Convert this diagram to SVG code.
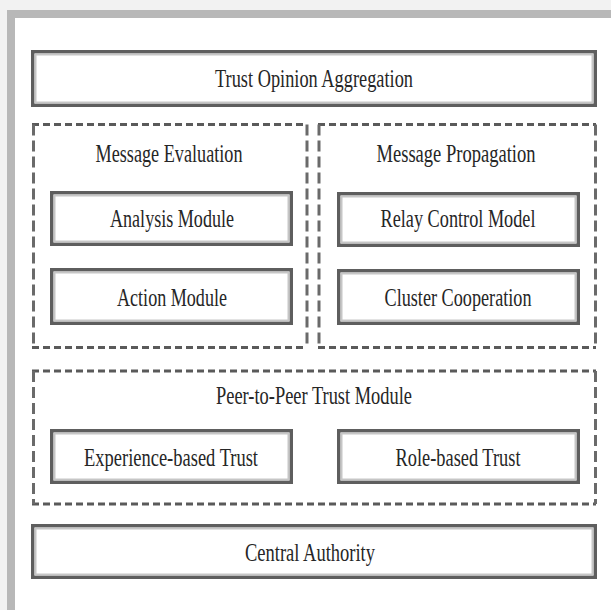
<svg xmlns="http://www.w3.org/2000/svg" width="611" height="610" viewBox="0 0 611 610">
<style>
.box{fill:#fff;stroke:#5e5e5e;stroke-width:3.5}
.inner{fill:none;stroke:#c6c6c6;stroke-width:2}
.dh{fill:none;stroke:#5a5a5a;stroke-width:3;stroke-dasharray:7 4}
.dv{fill:none;stroke:#6a6a6a;stroke-width:3;stroke-dasharray:11 5}
text{font-family:"Liberation Serif","Times New Roman",serif;font-size:26px;fill:#262626;text-anchor:middle}
</style>
<rect x="0" y="0" width="611" height="610" fill="#f2f2f2"/>
<rect x="11" y="14" width="610" height="610" fill="#fff" stroke="#b8b8b8" stroke-width="8"/>
<g id="trust-opinion-aggregation">
<rect class="box" x="32.75" y="51.75" width="562.5" height="53.5"/>
<rect class="inner" x="35.5" y="54.5" width="557" height="48"/>
<text x="314" y="87" textLength="198" lengthAdjust="spacingAndGlyphs">Trust Opinion Aggregation</text>
</g>
<g id="message-evaluation">
<path class="dh" d="M32 124.5H307M32 347.5H307"/>
<path class="dv" d="M33.5 124.5V347.5M307 124.5V347.5"/>
<text x="169" y="162" textLength="147" lengthAdjust="spacingAndGlyphs">Message Evaluation</text>
</g>
<g id="message-propagation">
<path class="dh" d="M318 124.5H596M318 347.5H596"/>
<path class="dv" d="M319 124.5V347.5M595.5 124.5V347.5"/>
<text x="456" y="162" textLength="159" lengthAdjust="spacingAndGlyphs">Message Propagation</text>
</g>
<g id="analysis-module">
<rect class="box" x="51.75" y="192.75" width="239.5" height="51.5"/>
<rect class="inner" x="54.5" y="195.5" width="234" height="46"/>
<text x="172" y="227" textLength="124" lengthAdjust="spacingAndGlyphs">Analysis Module</text>
</g>
<g id="action-module">
<rect class="box" x="51.75" y="269.75" width="239.5" height="53.5"/>
<rect class="inner" x="54.5" y="272.5" width="234" height="48"/>
<text x="172" y="306" textLength="110" lengthAdjust="spacingAndGlyphs">Action Module</text>
</g>
<g id="relay-control-model">
<rect class="box" x="338.75" y="193.75" width="239.5" height="51.5"/>
<rect class="inner" x="341.5" y="196.5" width="234" height="46"/>
<text x="458" y="227" textLength="155" lengthAdjust="spacingAndGlyphs">Relay Control Model</text>
</g>
<g id="cluster-cooperation">
<rect class="box" x="338.75" y="270.75" width="239.5" height="52.5"/>
<rect class="inner" x="341.5" y="273.5" width="234" height="47"/>
<text x="458" y="306" textLength="147" lengthAdjust="spacingAndGlyphs">Cluster Cooperation</text>
</g>
<g id="peer-to-peer-trust-module">
<path class="dh" d="M32 371H596M32 504H596"/>
<path class="dv" d="M33.5 371V504M595.5 371V504"/>
<text x="314" y="404" textLength="196" lengthAdjust="spacingAndGlyphs">Peer-to-Peer Trust Module</text>
</g>
<g id="experience-based-trust">
<rect class="box" x="51.75" y="430.75" width="239.5" height="51.5"/>
<rect class="inner" x="54.5" y="433.5" width="234" height="46"/>
<text x="171" y="466" textLength="174" lengthAdjust="spacingAndGlyphs">Experience-based Trust</text>
</g>
<g id="role-based-trust">
<rect class="box" x="338.75" y="430.75" width="239.5" height="51.5"/>
<rect class="inner" x="341.5" y="433.5" width="234" height="46"/>
<text x="458" y="466" textLength="125" lengthAdjust="spacingAndGlyphs">Role-based Trust</text>
</g>
<g id="central-authority">
<rect class="box" x="32.75" y="525.75" width="562.5" height="51.5"/>
<rect class="inner" x="35.5" y="528.5" width="557" height="46"/>
<text x="310" y="561" textLength="130" lengthAdjust="spacingAndGlyphs">Central Authority</text>
</g>
<g id="connectors"></g>
</svg>
